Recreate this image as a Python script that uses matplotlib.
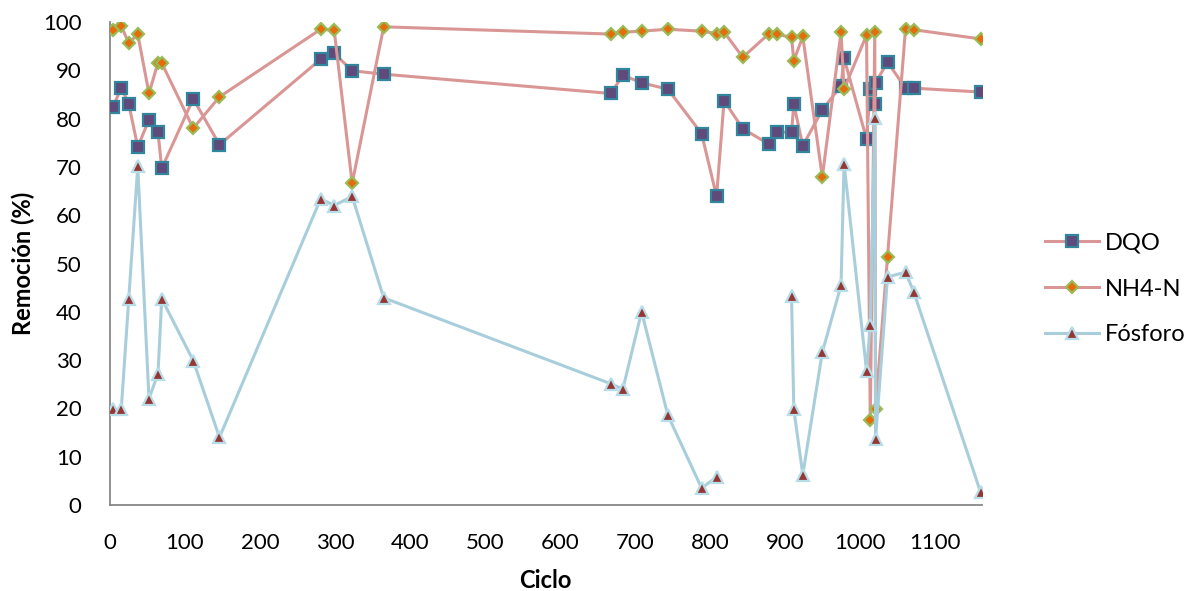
import numpy as np
import matplotlib
matplotlib.use("Agg")
import matplotlib.pyplot as plt

plt.rcParams['font.family'] = ['Lato', 'DejaVu Sans']

ciclo = [4, 15, 25, 37, 52, 64, 69, 111, 146, 281, 299, 323, 365, 668, 684, 709,
         744, 789, 809, 819, 844, 879, 889, 909, 912, 924, 950, 975, 979, 1009,
         1014, 1020, 1021, 1037, 1061, 1072, 1161]

dqo = [82.4, 86.4, 83.1, 74.1, 79.8, 77.2, 69.7, 84.1, 74.6, 92.3, 93.5, 89.9,
       89.2, 85.2, 89.0, 87.4, 86.1, 76.9, 63.9, 83.7, 77.9, 74.7, 77.2, 77.2,
       83.0, 74.4, 81.8, 86.8, 92.5, 75.8, 86.1, 83.0, 87.4, 91.7, 86.3, 86.3, 85.5]

nh4 = [98.3, 99.2, 95.6, 97.5, 85.2, 91.6, 91.5, 78.0, 84.5, 98.5, 98.3, 66.6,
       99.0, 97.5, 97.9, 98.1, 98.5, 98.1, 97.6, 97.9, 92.7, 97.6, 97.5, 96.8,
       92.0, 97.0, 67.9, 97.9, 86.1, 97.3, 17.7, 97.9, 19.9, 51.4, 98.6, 98.4, 96.5]

nan = np.nan
fosforo = [19.8, 19.8, 42.6, 70.1, 22.0, 27.2, 42.7, 29.9, 14.0, 63.4, 62.0, 63.9,
           42.9, 25.1, 24.0, 40.0, 18.6, 3.5, 5.8, nan, nan, nan, nan, 43.2,
           19.8, 6.3, 31.6, 45.5, 70.7, 27.8, 37.2, 80.2, 13.7, 47.2, 48.2, 44.1, 2.7]

series_names = ["DQO", "NH4-N", "Fósforo"]
x_ticks = list(range(0, 1101, 100))
y_ticks = list(range(0, 101, 10))

W, H = 1195, 591
fig = plt.figure(figsize=(W / 100, H / 100), dpi=100)
ax = fig.add_axes([110 / W, (H - 505) / H, (982 - 110) / W, (505 - 22) / H])

pink = "#D99694"
blue = "#A8CEDC"

ax.plot(ciclo, dqo, color=pink, lw=2.2, marker="s", ms=8.5,
        mfc="#604A7B", mec="#31859C", mew=1.6, label=series_names[0], zorder=3)
ax.plot(ciclo, nh4, color=pink, lw=2.2, marker="D", ms=6.3,
        mfc="#E46C0A", mec="#9BBB59", mew=1.6, label=series_names[1], zorder=4)
ax.plot(ciclo, fosforo, color=blue, lw=2.2, marker="^", ms=9,
        mfc="#953735", mec="#B7DEE8", mew=1.6, label=series_names[2], zorder=5)

ax.set_xlim(0, 1163)
ax.set_ylim(0, 100)
ax.set_xticks(x_ticks)
ax.set_yticks(y_ticks)
ax.tick_params(axis="both", length=0, labelsize=16, colors="black")
ax.tick_params(axis="x", pad=20)
ax.tick_params(axis="y", pad=20.5)

for s in ["top", "right"]:
    ax.spines[s].set_visible(False)
for s in ["left", "bottom"]:
    ax.spines[s].set_color("#878787")
    ax.spines[s].set_linewidth(1.3)

fig.text(545 / W, 1 - 580 / H, "Ciclo", fontsize=17, fontweight="bold",
         ha="center", va="center")
fig.text(23 / W, 1 - 263 / H, "Remoción (%)", fontsize=17, fontweight="bold",
         ha="center", va="center", rotation=90)

leg = fig.legend(loc="center left", bbox_to_anchor=(1045 / W, 1 - 289 / H),
                 frameon=False, fontsize=17, handlelength=2.3, handletextpad=0.25,
                 labelspacing=1.05, borderpad=0, borderaxespad=0)

fig.savefig("out.png", dpi=100, facecolor="white")
